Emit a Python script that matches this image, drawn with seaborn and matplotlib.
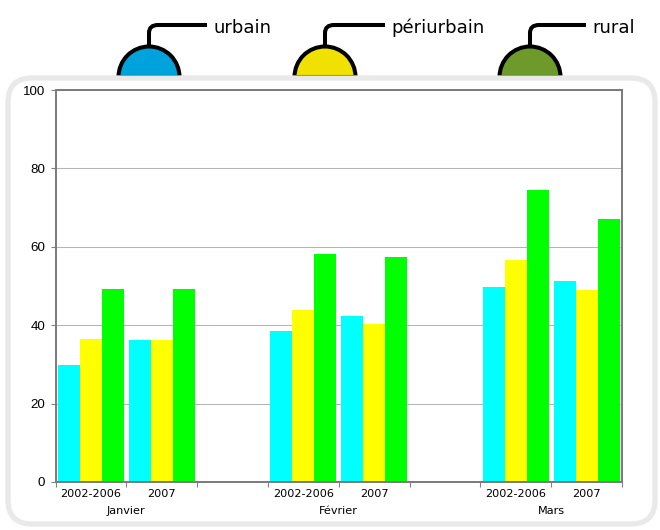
import matplotlib
matplotlib.use("Agg")
import matplotlib.pyplot as plt
import matplotlib.transforms as mtransforms
from matplotlib.patches import FancyBboxPatch, Wedge
from matplotlib.path import Path
from matplotlib.patches import PathPatch
import numpy as np
import pandas as pd
import seaborn as sns

# --- data -------------------------------------------------------------
zones = ["urbain", "périurbain", "rural"]
mois = ["Janvier", "Février", "Mars"]
periodes = ["2002-2006", "2007"]
# values per (month, period): Jan 02-06, Jan 07, Fév 02-06, Fév 07, Mars 02-06, Mars 07
urbain = [29.8, 36.1, 38.4, 42.3, 49.7, 51.2]
periurbain = [36.4, 36.1, 44.0, 40.2, 56.6, 49.1]
rural = [49.2, 49.2, 58.1, 57.5, 74.6, 67.2]
y_ticks = [0, 20, 40, 60, 80, 100]

bar_colors = ["#00FFFF", "#FFFF00", "#00FF00"]
lamp_colors = ["#00A2DB", "#F0E100", "#6E9A2B"]

# --- table ------------------------------------------------------------
rows = []
series = {"urbain": urbain, "périurbain": periurbain, "rural": rural}
i = 0
for m in mois:
    for p in periodes:
        for z in zones:
            rows.append({"cat": f"{m}|{p}", "zone": z, "valeur": series[z][i]})
        i += 1
df = pd.DataFrame(rows)

order = []
tick_labels = []
for k, m in enumerate(mois):
    for p in periodes:
        order.append(f"{m}|{p}")
        tick_labels.append(p)
    if k < len(mois) - 1:
        order.append(f"sep{k}")
        tick_labels.append("")

# --- figure -----------------------------------------------------------
sns.set_style("white")
plt.rcParams["font.family"] = ["DejaVu Sans"]
plt.rcParams["text.color"] = "black"
plt.rcParams["xtick.color"] = "black"
plt.rcParams["ytick.color"] = "black"

W, H = 660, 530
fig = plt.figure(figsize=(W / 100, H / 100), dpi=100)
fig.patch.set_facecolor("white")

# pixel coordinates measured from the top-left corner
px = mtransforms.Affine2D().scale(1 / W, -1 / H).translate(0, 1) + fig.transFigure

ax = fig.add_axes([55.5 / W, 1 - 482 / H, (622 - 55.5) / W, (482 - 90) / H])
ax.set_zorder(2)

sns.barplot(data=df, x="cat", y="valeur", hue="zone", order=order,
            hue_order=zones, palette=bar_colors, width=0.93, saturation=1,
            errorbar=None, legend=False, linewidth=0, ax=ax)

ax.set_xlim(-0.5, len(order) - 0.5)
ax.set_ylim(0, 100)
ax.set_xlabel("")
ax.set_ylabel("")
ax.set_facecolor("white")

# y axis
ax.set_yticks(y_ticks)
ax.set_yticklabels([str(v) for v in y_ticks], family="Liberation Sans", fontsize=9.6)
ax.yaxis.grid(True, color="#b4b4b4", linewidth=0.75)
ax.set_axisbelow(True)
ax.tick_params(axis="y", length=3.5, width=0.8, color="#808080", pad=4,
               left=True, labelcolor="black")

# x axis: labels at bar groups, tick marks at the boundaries
ax.set_xticks(range(len(order)))
ax.set_xticklabels(tick_labels, fontsize=8.1)
ax.set_xticks(np.arange(len(order) + 1) - 0.5, minor=True)
ax.tick_params(axis="x", which="major", length=0, pad=5, labelcolor="black")
ax.tick_params(axis="x", which="minor", length=3.5, width=0.8, color="#808080", bottom=True)

for s in ax.spines.values():
    s.set_color("#7a7a7a")
    s.set_linewidth(1.4)
    s.set_visible(True)

for k, m in enumerate(mois):
    xc = 3 * k + 0.5
    ax.text(xc, -0.075, m, transform=ax.get_xaxis_transform(),
            ha="center", va="center", fontsize=8.1, color="black")

# --- lamps with their labels -----------------------------------------
lamps = [(149, 213, "urbain"), (325, 391, "périurbain"), (530, 592, "rural")]
for (cx, tx, label), col in zip(lamps, lamp_colors):
    # angles run clockwise in this flipped pixel space, so 180..360 is the upper half
    dome = Wedge((cx, 77), 30.5, 180, 360, facecolor=col, edgecolor="black",
                 linewidth=2.9, transform=px, zorder=0)
    fig.add_artist(dome)
    verts = [(cx, 47), (cx, 33), (cx, 25), (cx + 9, 25), (tx - 6, 25)]
    codes = [Path.MOVETO, Path.LINETO, Path.CURVE3, Path.CURVE3, Path.LINETO]
    cord = PathPatch(Path(verts, codes), facecolor="none", edgecolor="black",
                     linewidth=2.9, capstyle="butt", transform=px, zorder=0)
    fig.add_artist(cord)
    fig.text(tx / W, 1 - 33 / H, label, ha="left", va="baseline",
             fontsize=13, color="black")

# --- rounded frame around the chart ---------------------------------
frame = FancyBboxPatch((8, 78), 647, 446,
                       boxstyle="round,pad=0,rounding_size=24",
                       facecolor="white", edgecolor="#e9e9e9", linewidth=3.8,
                       transform=px, zorder=1)
fig.add_artist(frame)

fig.savefig("out.png", dpi=100, facecolor="white")
